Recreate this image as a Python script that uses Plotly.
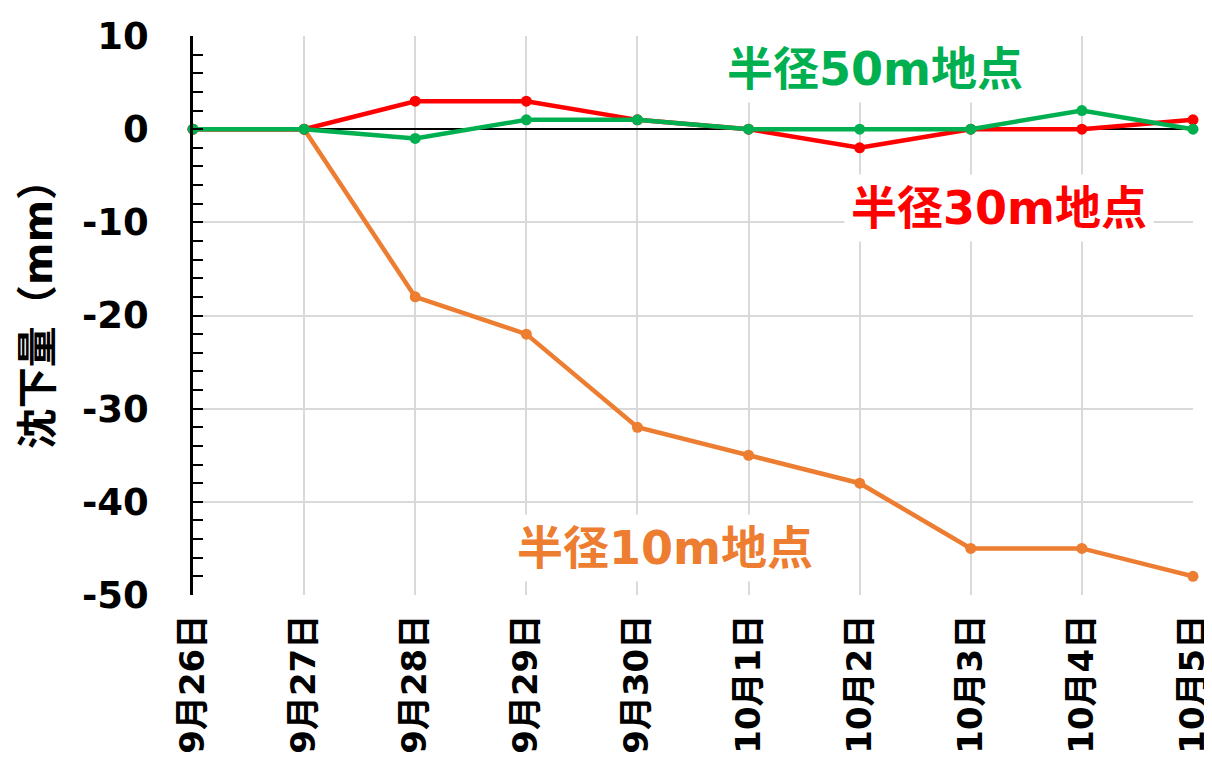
import plotly.graph_objects as go

dates = ["9月26日", "9月27日", "9月28日", "9月29日", "9月30日",
         "10月1日", "10月2日", "10月3日", "10月4日", "10月5日"]
r10 = [0, 0, -18, -22, -32, -35, -38, -45, -45, -48]
r30 = [0, 0, 3, 3, 1, 0, -2, 0, 0, 1]
r50 = [0, 0, -1, 1, 1, 0, 0, 0, 2, 0]
yticks = [10, 0, -10, -20, -30, -40, -50]
ytext = ["10", "0", "-10", "-20", "-30", "-40", "-50"]

xi = list(range(len(dates)))
FONT = "DejaVu Sans, Noto Sans CJK JP, sans-serif"

fig = go.Figure()
for vals, col in [(r10, "#ED7D31"), (r30, "#FF0000"), (r50, "#00B050")]:
    fig.add_trace(go.Scatter(x=xi, y=vals, mode="lines+markers",
                             line=dict(color=col, width=4.5),
                             marker=dict(color=col, size=11),
                             showlegend=False, cliponaxis=False))

def label(text, x, y, color):
    fig.add_annotation(x=x, y=y, xref="x", yref="y", text="<b>" + text + "</b>",
                       showarrow=False, bgcolor="white", borderpad=6,
                       xanchor="center", yanchor="middle",
                       font=dict(family=FONT, size=46, color=color))

label("半径50m地点", 6.14, 6.5, "#00B050")
label("半径30m地点", 7.25, -8.5, "#FF0000")
label("半径10m地点", 4.25, -45, "#ED7D31")

fig.add_annotation(x=-0.155, y=0.52, xref="paper", yref="paper",
                   xanchor="center", yanchor="middle",
                   text="<b>沈下量（mm）</b>", textangle=-90, showarrow=False,
                   font=dict(family=FONT, size=41, color="black"))

# the page body adds an 8px offset, so the figure is 8px smaller and margins adjusted
fig.update_layout(
    width=1204, height=763,
    margin=dict(l=185, r=19, t=28, b=176, autoexpand=False),
    paper_bgcolor="white", plot_bgcolor="white",
    font=dict(family=FONT, color="black"),
    xaxis=dict(range=[0, len(dates) - 1], tickvals=xi,
               ticktext=["<b>" + d + "</b>" for d in dates],
               tickangle=-90, tickfont=dict(size=34), showgrid=True,
               gridcolor="#D9D9D9", gridwidth=1.5, zeroline=False,
               showline=False, ticks="", ticklabelstandoff=12,
               ticklabeloverflow="allow", automargin=False),
    yaxis=dict(range=[-50, 10], tickvals=yticks,
               ticktext=["<b>" + t + "</b>" for t in ytext],
               tickfont=dict(size=37), showgrid=True, gridcolor="#D9D9D9",
               gridwidth=1.5, zeroline=True, zerolinecolor="black",
               zerolinewidth=1.5, showline=True, linecolor="black",
               linewidth=2.5, ticks="inside", ticklen=10, tickwidth=2,
               tickcolor="black", ticklabelstandoff=34, automargin=False,
               ticklabeloverflow="allow",
               minor=dict(dtick=2, ticks="inside", ticklen=10, tickwidth=2,
                          tickcolor="black", showgrid=False)),
)

fig.write_html("out.html")
